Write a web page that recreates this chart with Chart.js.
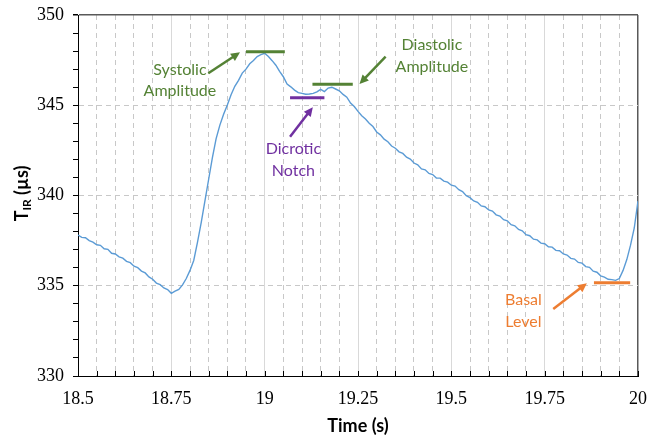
<!DOCTYPE html>
<html lang="en">
<head>
  <meta charset="UTF-8">
  <title>Pulse waveform</title>
  <style>
    body {
      margin: 0;
      padding: 0;
      background: #fff;
    }
    .chart-box {
      width: 647px;
      height: 441px;
    }
  </style>
  <script src="https://cdn.jsdelivr.net/npm/chart.js"></script>
</head>
<body>
  <div class="chart-box">
    <canvas id="pulseChart"></canvas>
  </div>

  <script>
    // time (s), read every 10 ms
    const times = [
      18.50, 18.51, 18.52, 18.53, 18.54, 18.55, 18.56, 18.57, 18.58, 18.59,
      18.60, 18.61, 18.62, 18.63, 18.64, 18.65, 18.66, 18.67, 18.68, 18.69,
      18.70, 18.71, 18.72, 18.73, 18.74, 18.75, 18.76, 18.77, 18.78, 18.79,
      18.80, 18.81, 18.82, 18.83, 18.84, 18.85, 18.86, 18.87, 18.88, 18.89,
      18.90, 18.91, 18.92, 18.93, 18.94, 18.95, 18.96, 18.97, 18.98, 18.99,
      19.00, 19.01, 19.02, 19.03, 19.04, 19.05, 19.06, 19.07, 19.08, 19.09,
      19.10, 19.11, 19.12, 19.13, 19.14, 19.15, 19.16, 19.17, 19.18, 19.19,
      19.20, 19.21, 19.22, 19.23, 19.24, 19.25, 19.26, 19.27, 19.28, 19.29,
      19.30, 19.31, 19.32, 19.33, 19.34, 19.35, 19.36, 19.37, 19.38, 19.39,
      19.40, 19.41, 19.42, 19.43, 19.44, 19.45, 19.46, 19.47, 19.48, 19.49,
      19.50, 19.51, 19.52, 19.53, 19.54, 19.55, 19.56, 19.57, 19.58, 19.59,
      19.60, 19.61, 19.62, 19.63, 19.64, 19.65, 19.66, 19.67, 19.68, 19.69,
      19.70, 19.71, 19.72, 19.73, 19.74, 19.75, 19.76, 19.77, 19.78, 19.79,
      19.80, 19.81, 19.82, 19.83, 19.84, 19.85, 19.86, 19.87, 19.88, 19.89,
      19.90, 19.91, 19.92, 19.93, 19.94, 19.95, 19.96, 19.97, 19.98, 19.99,
      20.00
    ];

    // T_IR (us)
    const tir = [
      337.81, 337.68, 337.66, 337.50, 337.42, 337.27, 337.24, 337.05, 337.02, 336.80,
      336.76, 336.60, 336.53, 336.35, 336.28, 336.08, 336.00, 335.81, 335.71, 335.49,
      335.36, 335.15, 335.06, 334.88, 334.79, 334.58, 334.70, 334.80, 335.05, 335.40,
      335.85, 336.40, 337.40, 338.50, 339.70, 340.90, 342.10, 343.15, 343.90, 344.50,
      345.02, 345.58, 346.05, 346.38, 346.78, 347.00, 347.30, 347.48, 347.70, 347.80,
      347.88, 347.70, 347.47, 347.22, 346.88, 346.58, 346.18, 346.02, 345.84, 345.70,
      345.66, 345.61, 345.62, 345.66, 345.74, 345.88, 345.76, 345.95, 346.00, 345.90,
      345.80, 345.60, 345.45, 345.12, 344.93, 344.66, 344.42, 344.24, 344.00, 343.82,
      343.52, 343.36, 343.12, 342.98, 342.74, 342.62, 342.42, 342.33, 342.12, 342.02,
      341.80, 341.70, 341.47, 341.42, 341.22, 341.16, 340.97, 340.96, 340.80, 340.74,
      340.57, 340.52, 340.32, 340.22, 339.99, 339.88, 339.70, 339.62, 339.42, 339.38,
      339.20, 339.14, 338.93, 338.86, 338.66, 338.60, 338.38, 338.32, 338.12, 338.04,
      337.83, 337.77, 337.58, 337.54, 337.36, 337.33, 337.16, 337.14, 336.96, 336.94,
      336.76, 336.70, 336.52, 336.48, 336.29, 336.25, 336.06, 336.02, 335.81, 335.75,
      335.55, 335.48, 335.36, 335.34, 335.30, 335.40, 335.85, 336.45, 337.25, 338.20,
      339.70
    ];

    // axis ranges and tick steps
    const xRange = [18.5, 20];
    const yRange = [330, 350];
    const xMajor = 0.25, xMinor = 0.05;
    const yMajor = 5, yMinor = 1;

    // annotation markers, in data units
    const notes = [
      { text: ['Systolic', 'Amplitude'], color: '#548235', level: 347.97, from: 18.95, to: 19.054,
        arrow: [[18.849, 346.77], [18.934, 347.93]], textAt: [18.773, [346.95, 345.79]] },
      { text: ['Diastolic', 'Amplitude'], color: '#548235', level: 346.16, from: 19.128, to: 19.236,
        arrow: [[19.324, 347.69], [19.254, 346.18]], textAt: [19.448, [348.34, 347.12]] },
      { text: ['Dicrotic', 'Notch'], color: '#7030A0', level: 345.42, from: 19.068, to: 19.16,
        arrow: [[19.068, 343.26], [19.129, 344.89]], textAt: [19.077, [342.61, 341.37]] },
      { text: ['Basal', 'Level'], color: '#ED7D31', level: 335.17, from: 19.882, to: 19.979,
        arrow: [[19.773, 333.71], [19.863, 335.14]], textAt: [19.693, [334.21, 332.98]] }
    ];

    const isMult = (v, step) => Math.abs(v / step - Math.round(v / step)) < 1e-6;
    const isEnd = v => Math.abs(v - xRange[1]) < 1e-6;

    const notePlugin = {
      id: 'notes',
      beforeDatasetsDraw(chart) {
        // short tick marks pointing up into the plot on the x axis
        const { ctx, chartArea, scales: { x } } = chart;
        ctx.save();
        ctx.strokeStyle = '#000';
        ctx.lineWidth = 1;
        x.ticks.forEach(t => {
          const px = Math.round(x.getPixelForValue(t.value)) + 0.5;
          ctx.beginPath();
          ctx.moveTo(px, chartArea.bottom);
          ctx.lineTo(px, chartArea.bottom - 5);
          ctx.stroke();
        });
        ctx.restore();
      },
      afterDatasetsDraw(chart) {
        const { ctx, scales: { x, y } } = chart;
        ctx.save();
        notes.forEach(n => {
          ctx.strokeStyle = n.color;
          ctx.fillStyle = n.color;

          // level bar
          ctx.lineWidth = 3;
          ctx.beginPath();
          ctx.moveTo(x.getPixelForValue(n.from), y.getPixelForValue(n.level));
          ctx.lineTo(x.getPixelForValue(n.to), y.getPixelForValue(n.level));
          ctx.stroke();

          // arrow
          const x0 = x.getPixelForValue(n.arrow[0][0]);
          const y0 = y.getPixelForValue(n.arrow[0][1]);
          const x1 = x.getPixelForValue(n.arrow[1][0]);
          const y1 = y.getPixelForValue(n.arrow[1][1]);
          const a = Math.atan2(y1 - y0, x1 - x0);
          const head = 10;
          ctx.lineWidth = 2.5;
          ctx.beginPath();
          ctx.moveTo(x0, y0);
          ctx.lineTo(x1 - Math.cos(a) * head * 0.8, y1 - Math.sin(a) * head * 0.8);
          ctx.stroke();
          ctx.beginPath();
          ctx.moveTo(x1, y1);
          ctx.lineTo(x1 - head * Math.cos(a - 0.45), y1 - head * Math.sin(a - 0.45));
          ctx.lineTo(x1 - head * Math.cos(a + 0.45), y1 - head * Math.sin(a + 0.45));
          ctx.closePath();
          ctx.fill();

          // label
          ctx.font = '16px Lato';
          ctx.textAlign = 'center';
          ctx.textBaseline = 'middle';
          n.text.forEach((t, i) => {
            ctx.fillText(t, x.getPixelForValue(n.textAt[0]), y.getPixelForValue(n.textAt[1][i]));
          });
        });
        ctx.restore();
      },
      afterDraw(chart) {
        // y title with subscript: T_IR (µs)
        const { ctx, chartArea } = chart;
        ctx.save();
        ctx.translate(22, (chartArea.top + chartArea.bottom) / 2 - 2);
        ctx.rotate(-Math.PI / 2);
        ctx.fillStyle = '#000';
        ctx.textBaseline = 'middle';
        const big = 'bold 18px Lato', small = 'bold 12px Lato';
        ctx.font = big;
        const wT = ctx.measureText('T').width;
        const wRest = ctx.measureText(' (µs)').width;
        ctx.font = small;
        const wSub = ctx.measureText('IR').width;
        let px = -(wT + wSub + wRest) / 2;
        ctx.font = big;
        ctx.fillText('T', px, 0);
        px += wT;
        ctx.font = small;
        ctx.fillText('IR', px, 5);
        px += wSub;
        ctx.font = big;
        ctx.fillText(' (µs)', px, 0);
        ctx.restore();
      }
    };

    const ctx = document.getElementById('pulseChart').getContext('2d');
    new Chart(ctx, {
      type: 'line',
      data: {
        datasets: [{
          data: times.map((t, i) => ({ x: t, y: tir[i] })),
          borderColor: '#5B9BD5',
          borderWidth: 1.4,
          pointRadius: 0,
          tension: 0,
          fill: false
        }]
      },
      options: {
        responsive: true,
        maintainAspectRatio: false,
        animation: false,
        layout: { padding: { left: 0, top: 15, right: 9, bottom: 0 } },
        plugins: {
          legend: { display: false },
          tooltip: { enabled: false }
        },
        scales: {
          x: {
            type: 'linear',
            min: xRange[0],
            max: xRange[1],
            afterFit(scale) {
              scale.height = 65;
              scale.paddingLeft = 0;
              scale.paddingRight = 0;
            },
            ticks: {
              stepSize: xMinor,
              autoSkip: false,
              maxRotation: 0,
              padding: 12,
              color: '#000',
              font: { family: 'Liberation Serif', size: 18 },
              callback: v => isMult(v, xMajor) ? String(Math.round(v * 100) / 100) : ''
            },
            grid: {
              color: c => {
                const v = c.tick ? c.tick.value : 0;
                if (isEnd(v)) return '#595959';
                return isMult(v, xMajor) ? '#d9d9d9' : '#c8c8c8';
              },
              lineWidth: c => (c.tick && isEnd(c.tick.value)) ? 1.5 : 1,
              drawTicks: false
            },
            border: {
              color: '#000',
              width: 1,
              dash: c => (c.tick && !isMult(c.tick.value, xMajor)) ? [5, 4] : []
            },
            title: {
              display: true,
              text: 'Time (s)',
              color: '#000',
              font: { family: 'Lato', size: 18, weight: 'bold' },
              padding: { top: 0, bottom: 4 }
            }
          },
          y: {
            min: yRange[0],
            max: yRange[1],
            afterFit(scale) {
              scale.width = 78;
              scale.paddingTop = 0;
              scale.paddingBottom = 0;
            },
            ticks: {
              stepSize: yMinor,
              autoSkip: false,
              padding: 9,
              color: '#000',
              font: { family: 'Liberation Serif', size: 18 },
              callback: v => isMult(v, yMajor) ? String(v) : ''
            },
            grid: {
              color: c => {
                const v = c.tick ? c.tick.value : 0;
                if (v === yRange[1]) return '#595959';
                return isMult(v, yMajor) ? '#c8c8c8' : 'rgba(0,0,0,0)';
              },
              lineWidth: c => (c.tick && c.tick.value === yRange[1]) ? 1.5 : 1,
              tickColor: '#000',
              tickLength: 5
            },
            border: {
              color: '#000',
              width: 1,
              dash: c => (c.tick && c.tick.value !== yRange[1]) ? [5, 4] : []
            }
          }
        }
      },
      plugins: [notePlugin]
    });
  </script>
</body>
</html>
